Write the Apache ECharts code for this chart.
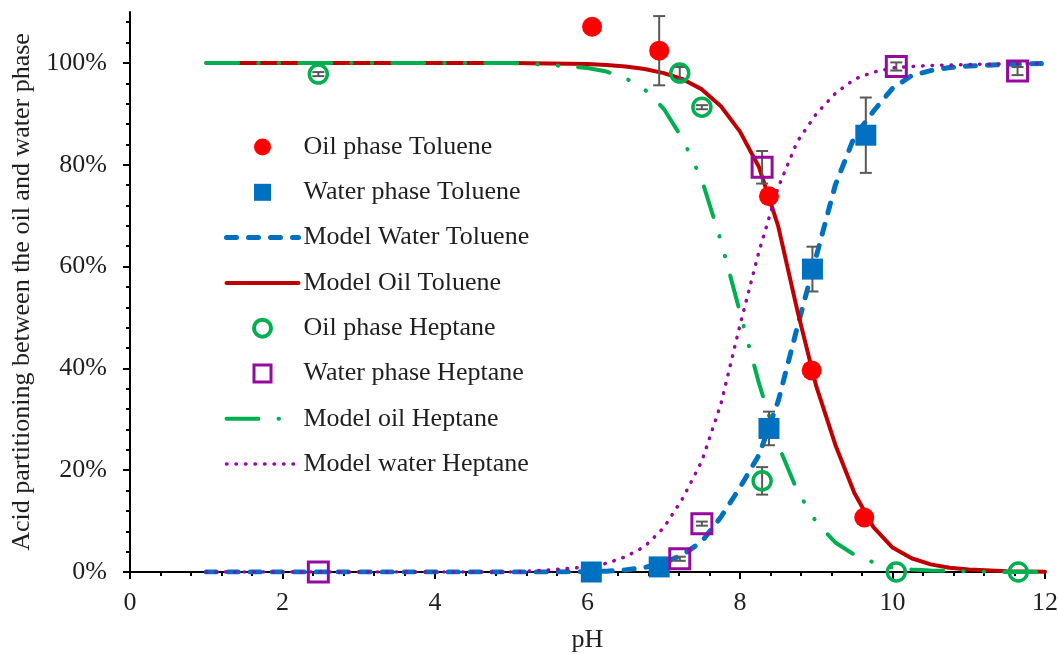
<!DOCTYPE html>
<html>
<head>
<meta charset="utf-8">
<title>Acid partitioning vs pH</title>
<script src="https://cdn.jsdelivr.net/npm/echarts@6/dist/echarts.min.js"></script>
<style>
  html, body { margin: 0; padding: 0; background: #ffffff; }
  #chart { width: 1058px; height: 654px; }
</style>
</head>
<body>
<div id="chart"></div>
<script>
// ---- measured points (pH, % of acid, error) ----
const oilTolPH  = [6.06, 6.94, 8.38, 8.94, 9.63];
const oilTolVal = [107.1, 102.4, 73.8, 39.6, 10.7];
const oilTolErr = [0, 6.8, 0, 0, 0];

const watTolPH  = [6.05, 6.94, 8.38, 8.95, 9.65];
const watTolVal = [0, 1.0, 28.2, 59.5, 85.8];
const watTolErr = [0, 0, 3.3, 4.4, 7.4];

const oilHepPH  = [2.47, 7.21, 7.50, 8.29, 10.05, 11.65];
const oilHepVal = [97.8, 98.0, 91.3, 17.9, 0, 0];
const oilHepErr = [0.4, 1.2, 0.4, 2.7, 0, 0];

const watHepPH  = [2.47, 7.21, 7.50, 8.29, 10.05, 11.64];
const watHepVal = [0, 2.6, 9.5, 79.5, 99.3, 98.4];
const watHepErr = [0, 0.4, 0.4, 3.2, 0.8, 0.8];

// ---- model curves, sampled on a common pH grid ----
const modelPH = [1, 1.5, 2, 2.5, 3, 3.5, 4, 4.5, 5, 5.5, 6, 6.25, 6.5, 6.75, 7, 7.25,
                 7.5, 7.75, 8, 8.25, 8.5, 8.75, 9, 9.25, 9.5, 9.75, 10, 10.25, 10.5,
                 10.75, 11, 11.5, 12];
const modelWaterToluene = [0, 0, 0, 0, 0, 0, 0, 0, 0, 0, 0.05, 0.15, 0.4, 0.9, 1.8, 3.4,
                 6, 10.8, 16.6, 23, 33.5, 48, 62, 76, 85.5, 90.5, 95, 97.5, 98.5,
                 99.1, 99.4, 99.7, 99.9];
const modelOilToluene = [100, 100, 100, 100, 100, 100, 100, 100, 100, 99.9, 99.8, 99.6, 99.3, 98.8, 98.0, 96.8,
                 94.8, 91.5, 86.5, 79.5, 68, 51.5, 36.5, 25, 15.5, 8.8, 4.8, 2.7, 1.5,
                 0.85, 0.5, 0.15, 0.05];
const modelOilHeptane = [100, 100, 100, 100, 100, 100, 100, 100, 100, 99.6, 99.0, 98.3, 97.0, 94.8, 91.0, 85,
                 77, 65, 51, 37, 25, 16, 9.8, 5.8, 3.4, 1.9, 0.9, 0.5, 0.3,
                 0.2, 0.1, 0, 0];
const modelWaterHeptane = [0, 0, 0, 0, 0, 0, 0, 0, 0, 0.4, 1.0, 1.7, 3.0, 5.0, 8.7, 14.5,
                 21.8, 33, 48.5, 63, 75.5, 84.5, 90, 94, 96.8, 98.2, 99, 99.3, 99.5,
                 99.6, 99.7, 99.8, 99.9];

// ---- axis tick values ----
const yTicks = [0, 20, 40, 60, 80, 100];
const yMinorTicks = [4, 8, 12, 16, 24, 28, 32, 36, 44, 48, 52, 56, 64, 68, 72, 76, 84, 88, 92, 96, 104, 108];

const FONT = 'Liberation Serif';
const FS = 26;
const TEXT = '#1f1f1f';
const C_RED = '#ff0000', C_DARKRED = '#c00000', C_BLUE = '#0070c0',
      C_GREEN = '#00b050', C_PURPLE = '#970a9f', C_ERR = '#595959';
const SQUARE = 'path://M0,0L10,0L10,10L0,10Z';
const NO_MARK = { color: 'rgba(0,0,0,0)', borderColor: 'rgba(0,0,0,0)', borderWidth: 0 };

const pairs = (xs, ys) => xs.map((x, i) => [x, ys[i]]);
const errRows = (xs, ys, es) => xs
  .map((x, i) => [x, ys[i] - es[i], ys[i] + es[i]])
  .filter((r, i) => es[i] > 0);

const errorData = [].concat(
  errRows(oilTolPH, oilTolVal, oilTolErr),
  errRows(watTolPH, watTolVal, watTolErr),
  errRows(oilHepPH, oilHepVal, oilHepErr),
  errRows(watHepPH, watHepVal, watHepErr)
);

function renderErrorBar(params, api) {
  const x = api.value(0);
  const lo = api.coord([x, api.value(1)]);
  const hi = api.coord([x, api.value(2)]);
  const w = 6;
  const st = { stroke: C_ERR, lineWidth: 2 };
  return {
    type: 'group',
    children: [
      { type: 'line', shape: { x1: lo[0], y1: lo[1], x2: hi[0], y2: hi[1] }, style: st },
      { type: 'line', shape: { x1: lo[0] - w, y1: lo[1], x2: lo[0] + w, y2: lo[1] }, style: st },
      { type: 'line', shape: { x1: hi[0] - w, y1: hi[1], x2: hi[0] + w, y2: hi[1] }, style: st }
    ]
  };
}

const chart = echarts.init(document.getElementById('chart'), null, { renderer: 'canvas' });

const lineSeries = (name, data, color, width, type, z) => ({
  name, type: 'line', data, symbol: 'none', smooth: false, z,
  lineStyle: { color, width, type, cap: 'round', join: 'round' },
  itemStyle: { color },
  emphasis: { disabled: true }, animation: false
});

chart.setOption({
  animation: false,
  textStyle: { fontFamily: FONT, color: TEXT },
  grid: { left: 130, right: 13, top: 12, bottom: 82, containLabel: false, outerBoundsMode: 'none' },
  legend: {
    orient: 'vertical',
    left: 219, top: 129,
    itemWidth: 72, itemHeight: 17, itemGap: 19.3,
    symbolKeepAspect: true,
    textStyle: { fontFamily: FONT, fontSize: FS, color: TEXT, lineHeight: 26 },
    selectedMode: false,
    data: [
      { name: 'Oil phase Toluene', icon: 'circle' },
      { name: 'Water phase Toluene', icon: SQUARE },
      { name: 'Model Water Toluene', lineStyle: { width: 5 }, itemStyle: NO_MARK },
      { name: 'Model Oil Toluene', lineStyle: { width: 4 }, itemStyle: NO_MARK },
      { name: 'Oil phase Heptane', icon: 'circle', itemStyle: { borderWidth: 4 } },
      { name: 'Water phase Heptane', icon: SQUARE, itemStyle: { borderWidth: 3 } },
      { name: 'Model oil Heptane', lineStyle: { width: 4 }, itemStyle: NO_MARK },
      { name: 'Model water Heptane', lineStyle: { width: 3.5 }, itemStyle: NO_MARK }
    ]
  },
  xAxis: {
    type: 'value', min: 0, max: 12, interval: 2,
    name: 'pH', nameLocation: 'middle', nameGap: 55,
    nameTextStyle: { fontFamily: FONT, fontSize: FS, color: TEXT },
    axisLine: { lineStyle: { color: '#000', width: 2 } },
    axisTick: { inside: false, length: 7, lineStyle: { color: '#000', width: 2 } },
    minorTick: { show: true, splitNumber: 5, length: 4, lineStyle: { color: '#000', width: 2 } },
    axisLabel: { fontFamily: FONT, fontSize: FS, color: TEXT, margin: 18 },
    splitLine: { show: false }
  },
  yAxis: [{
    type: 'value', min: 0, max: 110, interval: 20,
    name: 'Acid partitioning between the oil and water phase',
    nameLocation: 'middle', nameGap: 94, nameRotate: 90,
    nameTextStyle: { fontFamily: FONT, fontSize: FS, color: TEXT },
    axisLine: { show: true, lineStyle: { color: '#000', width: 2 } },
    axisTick: { show: true, length: 7, customValues: yTicks, lineStyle: { color: '#000', width: 2 } },
    axisLabel: { fontFamily: FONT, fontSize: FS, color: TEXT, margin: 23,
                 customValues: yTicks, formatter: v => v + '%' },
    splitLine: { show: false }
  }, {
    // second axis only carries the short minor ticks
    type: 'value', min: 0, max: 110, position: 'left', offset: 0,
    axisLine: { show: false },
    axisTick: { show: true, length: 4, customValues: yMinorTicks, lineStyle: { color: '#000', width: 2 } },
    axisLabel: { show: false },
    splitLine: { show: false }
  }],
  series: [
    lineSeries('Model Water Toluene', pairs(modelPH, modelWaterToluene), C_BLUE, 5, [10, 12], 2),
    lineSeries('Model Oil Toluene', pairs(modelPH, modelOilToluene), C_DARKRED, 4, 'solid', 2),
    lineSeries('Model oil Heptane', pairs(modelPH, modelOilHeptane), C_GREEN, 4, [32, 20, 0.5, 20, 0.5, 20], 2),
    lineSeries('Model water Heptane', pairs(modelPH, modelWaterHeptane), C_PURPLE, 3.5, [0.5, 9], 2),
    {
      name: 'error bars', type: 'custom', renderItem: renderErrorBar,
      data: errorData, z: 3, silent: true, animation: false
    },
    {
      name: 'Oil phase Toluene', type: 'scatter', data: pairs(oilTolPH, oilTolVal),
      symbol: 'circle', symbolSize: 20, z: 4,
      itemStyle: { color: C_RED, opacity: 1 }
    },
    {
      name: 'Water phase Toluene', type: 'scatter', data: pairs(watTolPH, watTolVal),
      symbol: 'rect', symbolSize: 21, z: 4,
      itemStyle: { color: C_BLUE, opacity: 1 }
    },
    {
      name: 'Oil phase Heptane', type: 'scatter', data: pairs(oilHepPH, oilHepVal),
      symbol: 'circle', symbolSize: 18, z: 4,
      itemStyle: { color: 'rgba(255,255,255,0)', borderColor: C_GREEN, borderWidth: 3.5, opacity: 1 }
    },
    {
      name: 'Water phase Heptane', type: 'scatter', data: pairs(watHepPH, watHepVal),
      symbol: 'rect', symbolSize: 20, z: 4,
      itemStyle: { color: 'rgba(255,255,255,0)', borderColor: C_PURPLE, borderWidth: 3, opacity: 1 }
    }
  ]
});
</script>
</body>
</html>
